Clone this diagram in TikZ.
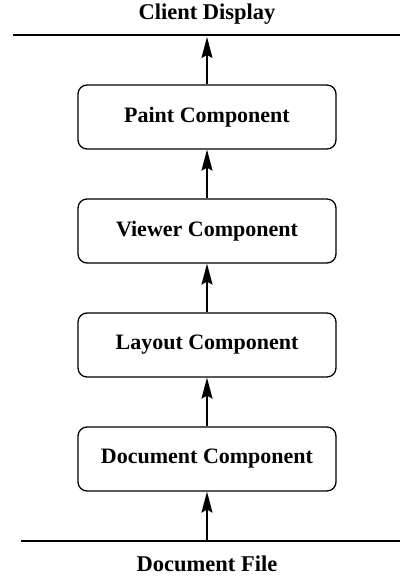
\documentclass[tikz,border=0pt]{standalone}
\usepackage{fontspec}
\setmainfont{Liberation Serif}
\usetikzlibrary{arrows.meta}
\begin{document}
\begin{tikzpicture}[x=1pt,y=1pt,
  comp/.style={draw,line width=1.3pt,rounded corners=9pt,minimum width=258pt,minimum height=64pt,inner sep=0pt,font=\fontsize{22}{26}\selectfont\bfseries},
  lbl/.style={font=\fontsize{22.5}{26}\selectfont\bfseries,inner sep=0pt},
  flow/.style={line width=1.3pt,-{Stealth[length=21pt,width=11pt,inset=3pt]}},
  rule/.style={line width=1.3pt}]
\useasboundingbox (0,0) rectangle (400,579);
\node[comp] (paint) at (207,462) {Paint Component};
\node[comp] (viewer) at (207,348) {Viewer Component};
\node[comp] (layout) at (207,234) {Layout Component};
\node[comp] (doc) at (207,120) {Document Component};
\coordinate (tl) at (13,544);
\coordinate (tr) at (400,544);
\coordinate (bl) at (21,38);
\coordinate (br) at (400,38);
\coordinate (top) at (207,542);
\coordinate (bot) at (207,38);
\draw[rule] (tl) -- (tr);
\draw[rule] (bl) -- (br);
\node[lbl] (client) at (207,565) {Client Display};
\node[lbl] (file) at (207,15) {Document File};
\draw[flow] (paint.north) -- (top);
\draw[flow] (viewer.north) -- (paint.south);
\draw[flow] (layout.north) -- (viewer.south);
\draw[flow] (doc.north) -- (layout.south);
\draw[flow] (bot) -- (doc.south);
\end{tikzpicture}
\end{document}
